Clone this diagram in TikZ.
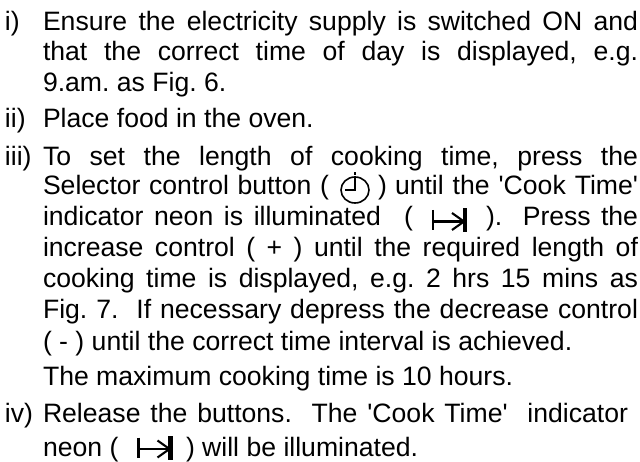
\documentclass[tikz,border=0pt]{standalone}
\usepackage{fontspec}
\setmainfont{Liberation Sans}
\usetikzlibrary{positioning}

\newcommand{\fullline}[1]{\makebox[595pt][s]{#1}}
\newcommand{\qs}{\textquotesingle}
\frenchspacing

\tikzset{
    cookmark/.pic={
        \draw[line width=2.1pt] (0,-11.5) -- (0,9);
        \draw[line width=2.1pt] (0,0) -- (31,0);
        \draw[line width=2.1pt] (19,-8.5) -- (31,0) -- (19,8.5);
        \draw[line width=4.6pt] (32,-13) -- (32,10.5);
    },
    clockmark/.pic={
        \draw[line width=1.6pt] (0,0) ellipse (14 and 13);
        \draw[line width=1.6pt] (-10,0) -- (0,0) -- (0,-13.5);
        \draw[line width=1.6pt] (0,-17.5) -- (0,-15);
    }
}

\begin{document}
\begin{tikzpicture}[x=1pt, y=-1pt
    , every node/.style={anchor=base west, inner sep=0pt, outer sep=0pt, font=\fontsize{26.6}{30}\selectfont}
    ]
    \useasboundingbox (0,0) rectangle (640,462);
    \fill[white] (0,0) rectangle (640,462);

    %% Step i
    \node (mark1) at (5,31) {i)};
    \node (line1) at (43,31) {\fullline{Ensure the electricity supply is switched ON and}};
    \node (line2) at (43,61) {\fullline{that the correct time of day is displayed, e.g.}};
    \node (line3) at (43,92) {9.am. as Fig. 6.};

    %% Step ii
    \node (mark2) at (5,128) {ii)};
    \node (line4) at (43,128) {Place food in the oven.};

    %% Step iii
    \node (mark3) at (5,166) {iii)};
    \node (line5) at (43,166) {\fullline{To set the length of cooking time, press the}};
    \node (line6a) at (43,195) {\makebox[286pt][s]{Selector control button (}};
    \path (355,190) pic {clockmark};
    \node (line6b) at (378,195) {)};
    \node (line6c) at (395,195) {\makebox[243pt][s]{until the \qs Cook Time\qs}};
    \node (line7a) at (43,226) {\makebox[338pt][s]{indicator neon is illuminated}};
    \node (line7b) at (404,226) {(};
    \path (433,221.5) pic {cookmark};
    \node (line7c) at (486,226) {\makebox[152pt][s]{).\ \ Press the}};
    \node (line8) at (43,257) {\fullline{increase control ( + ) until the required length of}};
    \node (line9) at (43,288) {\fullline{cooking time is displayed, e.g. 2 hrs 15 mins as}};
    \node (line10) at (43,319) {\fullline{Fig. 7.\ \ If necessary depress the decrease control}};
    \node (line11) at (43,350) {( - ) until the correct time interval is achieved.};
    \node (line12) at (43,385) {The maximum cooking time is 10 hours.};

    %% Step iv
    \node (mark4) at (5,422) {iv)};
    \node (line13) at (43,422) {\makebox[585pt][s]{Release the buttons.\ \ The \qs Cook Time\qs\ \ indicator}};
    \node (line14a) at (43,456) {neon (};
    \path (138.5,449) pic {cookmark};
    \node (line14b) at (186,456) {) will be illuminated.};
\end{tikzpicture}
\end{document}
